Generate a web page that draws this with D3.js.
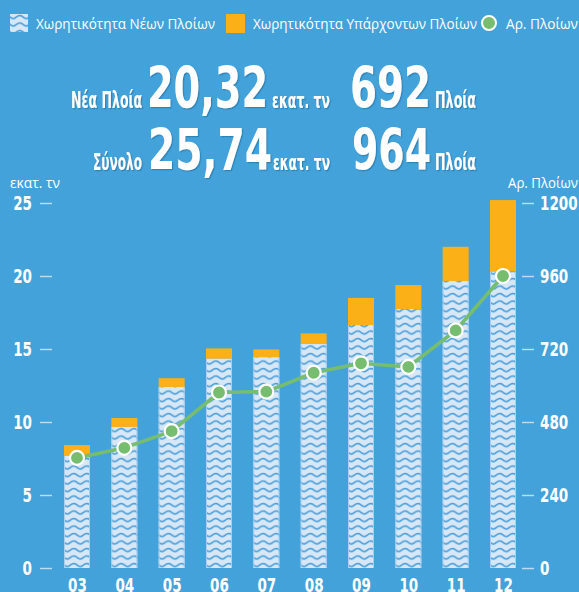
<!DOCTYPE html>
<html>
<head>
<meta charset="utf-8">
<script src="https://cdn.jsdelivr.net/npm/d3@7"></script>
<style>
  html, body { margin: 0; padding: 0; background: #43a2da; }
  svg { display: block; }
  .cond { font-family: 'Liberation Sans Narrow', 'DejaVu Sans Condensed', 'Roboto', sans-serif; font-stretch: condensed; font-weight: bold; }
  .reg { font-family: 'Open Sans', 'Noto Sans', sans-serif; }
</style>
</head>
<body>
<div id="chart"></div>
<script>
// data
const years = ['03', '04', '05', '06', '07', '08', '09', '10', '11', '12']
const newCapacity = [7.67, 9.66, 12.4, 14.33, 14.44, 15.34, 16.64, 17.74, 19.66, 20.3]
const totalCapacity = [8.42, 10.27, 13.0, 15.04, 14.97, 16.07, 18.5, 19.38, 22.0, 25.2]
const shipCount = [362, 395, 450, 577, 580, 642, 673, 661, 781, 960]
const leftTicks = [0, 5, 10, 15, 20, 25]
const rightTicks = [0, 240, 480, 720, 960, 1200]
const legendLabels = ['Χωρητικότητα Νέων Πλοίων', 'Χωρητικότητα Υπάρχοντων Πλοίων', 'Αρ. Πλοίων']

const width = 579
const height = 592
const bg = '#43a2da'
const orange = '#fcb017'
const green = '#76bd6f'
const pale = '#d7e7f6'
const waveBlue = '#4a9fdb'

const svg = d3.select('#chart')
  .append('svg')
  .attr('width', width)
  .attr('height', height)

svg.append('rect').attr('width', width).attr('height', height).attr('fill', bg)

const defs = svg.append('defs')
defs.append('filter')
  .attr('id', 'shadow')
  .attr('x', '-10%').attr('y', '-10%').attr('width', '130%').attr('height', '130%')
  .append('feDropShadow')
  .attr('dx', 1.2).attr('dy', 1.2).attr('stdDeviation', 0.6)
  .attr('flood-color', '#1f6f9f').attr('flood-opacity', 0.6)

const x = d3.scalePoint().domain(years).range([77, 503])
const yL = d3.scaleLinear().domain([0, 25]).range([568, 203])
const yR = d3.scaleLinear().domain([0, 1200]).range([568, 203])
const barW = 26

// wave pattern, one per bar so each starts at its left edge
const wavePath = 'M-6.5,3 Q-3.25,0 0,3 T6.5,3 T13,3 T19.5,3'
function addWavePattern(id, x0, y0) {
  const p = defs.append('pattern')
    .attr('id', id)
    .attr('patternUnits', 'userSpaceOnUse')
    .attr('x', x0).attr('y', y0)
    .attr('width', 13).attr('height', 7.5)
  p.append('rect').attr('width', 13).attr('height', 7.5).attr('fill', pale)
  p.append('path').attr('d', wavePath)
    .attr('fill', 'none').attr('stroke', waveBlue).attr('stroke-width', 1.6)
}
years.forEach((yr, i) => addWavePattern('wave' + i, x(yr) - barW / 2, 568 - 6))
addWavePattern('waveLegend', 10, 14)

// legend
const legend = svg.append('g').attr('class', 'reg').style('font-size', '15px').attr('fill', '#fff')
legend.append('rect').attr('x', 10).attr('y', 14).attr('width', 18).attr('height', 18).attr('fill', 'url(#waveLegend)')
legend.append('text').attr('x', 36).attr('y', 29).attr('textLength', 179).attr('lengthAdjust', 'spacingAndGlyphs').text(legendLabels[0])
legend.append('rect').attr('x', 226).attr('y', 14).attr('width', 19).attr('height', 19).attr('fill', orange)
legend.append('text').attr('x', 253).attr('y', 29).attr('textLength', 224).attr('lengthAdjust', 'spacingAndGlyphs').text(legendLabels[1])
legend.append('circle').attr('cx', 489).attr('cy', 23).attr('r', 7).attr('fill', green).attr('stroke', '#fff').attr('stroke-width', 2)
legend.append('text').attr('x', 506).attr('y', 29).attr('textLength', 72).attr('lengthAdjust', 'spacingAndGlyphs').text(legendLabels[2])

// header figures
const head = svg.append('g').attr('class', 'cond').attr('fill', '#fff').attr('filter', 'url(#shadow)')
function headText(str, x0, x1, base, size) {
  head.append('text')
    .attr('x', x0).attr('y', base)
    .attr('textLength', x1 - x0).attr('lengthAdjust', 'spacingAndGlyphs')
    .style('font-size', size + 'px')
    .text(str)
}
headText('Νέα Πλοία', 71, 142, 108, 23)
headText('20,32', 147, 268, 108, 57)
headText('εκατ. τν', 272, 330, 108, 21)
headText('692', 350, 431, 108, 57)
headText('Πλοία', 435, 476, 108, 23)
headText('Σύνολο', 93, 142, 170, 23)
headText('25,74', 148, 272, 170, 57)
headText('εκατ. τν', 273, 330, 170, 21)
headText('964', 352, 431, 170, 57)
headText('Πλοία', 435, 476, 170, 23)

// axis titles
svg.append('text').attr('class', 'reg').attr('x', 10).attr('y', 188).attr('fill', '#fff')
  .style('font-size', '14px').attr('textLength', 50).attr('lengthAdjust', 'spacingAndGlyphs').text('εκατ. τν')
svg.append('text').attr('class', 'reg').attr('x', 508).attr('y', 188).attr('fill', '#fff')
  .style('font-size', '14px').attr('textLength', 70).attr('lengthAdjust', 'spacingAndGlyphs').text('Αρ. Πλοίων')

// axes
function styleAxis(g) {
  g.select('.domain').remove()
  g.selectAll('.tick line').attr('stroke', '#fff').attr('stroke-opacity', 0.65).attr('stroke-width', 1.4)
  g.selectAll('.tick text')
    .attr('fill', '#fff')
    .attr('class', 'cond')
    .style('font-size', '20px')
    .attr('textLength', function () { return this.textContent.length * 9.4 })
    .attr('lengthAdjust', 'spacingAndGlyphs')
}
svg.append('g')
  .attr('transform', 'translate(52,0)')
  .call(d3.axisLeft(yL).tickValues(leftTicks).tickSize(12).tickPadding(8))
  .attr('font-family', null)
  .call(styleAxis)
svg.append('g')
  .attr('transform', 'translate(522,0)')
  .call(d3.axisRight(yR).tickValues(rightTicks).tickFormat(d3.format('d')).tickSize(12).tickPadding(6))
  .attr('font-family', null)
  .call(styleAxis)

const xAxis = svg.append('g')
  .attr('transform', 'translate(0,568)')
  .call(d3.axisBottom(x).tickSize(0).tickPadding(10))
  .attr('font-family', null)
  .call(styleAxis)
xAxis.selectAll('.tick text').attr('dy', '0.71em')

// bars
const bars = svg.append('g')
bars.selectAll('rect.total')
  .data(years)
  .join('rect')
  .attr('class', 'total')
  .attr('x', d => x(d) - barW / 2)
  .attr('width', barW)
  .attr('y', (d, i) => yL(totalCapacity[i]))
  .attr('height', (d, i) => yL(newCapacity[i]) - yL(totalCapacity[i]))
  .attr('fill', orange)
bars.selectAll('rect.new')
  .data(years)
  .join('rect')
  .attr('class', 'new')
  .attr('x', d => x(d) - barW / 2)
  .attr('width', barW)
  .attr('y', (d, i) => yL(newCapacity[i]))
  .attr('height', (d, i) => yL(0) - yL(newCapacity[i]))
  .attr('fill', (d, i) => `url(#wave${i})`)
bars.selectAll('line.edge')
  .data(years.flatMap((d, i) => [[d, i, -1], [d, i, 1]]))
  .join('line')
  .attr('class', 'edge')
  .attr('x1', d => x(d[0]) + d[2] * (barW / 2 - 0.5))
  .attr('x2', d => x(d[0]) + d[2] * (barW / 2 - 0.5))
  .attr('y1', d => yL(newCapacity[d[1]]))
  .attr('y2', yL(0))
  .attr('stroke', '#a8cdee')
  .attr('stroke-width', 1)

// ships line
const line = d3.line().x((d, i) => x(years[i])).y(d => yR(d))
svg.append('path')
  .datum(shipCount)
  .attr('d', line)
  .attr('fill', 'none')
  .attr('stroke', green)
  .attr('stroke-width', 3.6)
svg.append('g')
  .selectAll('circle')
  .data(shipCount)
  .join('circle')
  .attr('cx', (d, i) => x(years[i]))
  .attr('cy', d => yR(d))
  .attr('r', 7)
  .attr('fill', green)
  .attr('stroke', '#fff')
  .attr('stroke-width', 2.2)
</script>
</body>
</html>
